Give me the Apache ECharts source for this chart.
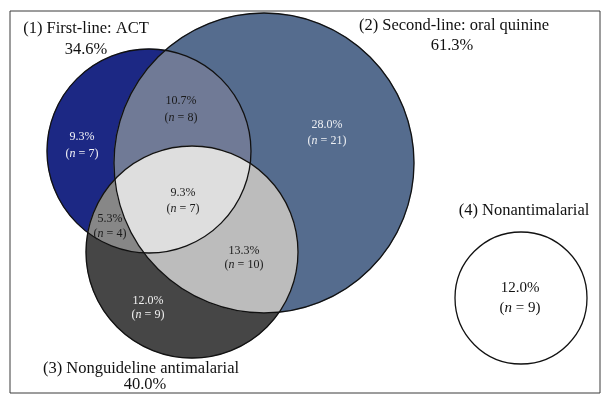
<!DOCTYPE html>
<html><head><meta charset="utf-8">
<script src="https://cdn.jsdelivr.net/npm/echarts@6/dist/echarts.min.js"></script>
<style>html,body{margin:0;padding:0;background:#fff}#c{width:611px;height:404px}</style>
</head><body><div id="c"></div>
<script>
// ---------- data ----------
const setNames = ['(1) First-line: ACT', '(2) Second-line: oral quinine', '(3) Nonguideline antimalarial', '(4) Nonantimalarial'];
const setShares = ['34.6%', '61.3%', '40.0%', ''];
// regions: 1 only, 2 only, 3 only, 4 only, 1∩2, 1∩3, 2∩3, 1∩2∩3
const regionNames = ['1 only', '2 only', '3 only', '4 only', '1∩2', '1∩3', '2∩3', '1∩2∩3'];
const regionShares = ['9.3%', '28.0%', '12.0%', '12.0%', '10.7%', '5.3%', '13.3%', '9.3%'];
const regionCounts = [7, 21, 9, 9, 8, 4, 10, 7];

// ---------- layout (geometry & style, not data) ----------
const circles = [
  { x: 149, y: 151, r: 102 },
  { x: 264, y: 163, r: 150 },
  { x: 192, y: 252, r: 106 },
  { x: 521, y: 298, r: 66 }
];
const regionSets = [[0], [1], [2], [3], [0, 1], [0, 2], [1, 2], [0, 1, 2]];
const regionFill = ['#1c2884', '#556c8e', '#464646', '#ffffff', '#707a96', '#878787', '#bcbcbc', '#dedede'];
const regionTextColor = ['#f4f4f8', '#eef0f4', '#f2f2f2', '#111', '#1a1a1a', '#1a1a1a', '#1a1a1a', '#1a1a1a'];
const regionLabelPos = [[82, 145], [327, 133], [148, 308], [520, 298], [181, 109], [110, 226], [244, 258], [183, 201]];
const regionFontSize = [12, 12, 12, 15, 12, 12, 12, 12];
const regionLineGap = [17, 16, 14, 20, 17, 15, 14, 16];
const setLabelPos = [[[86, 29], [86, 50]], [[454, 26], [452, 46]], [[141, 369], [145, 385]], [[524, 211], null]];
const SET_FONT_SIZE = 16.5;
const FONT = "'Liberation Serif','DejaVu Serif',serif";

function regionPolygon(idx) {
  const cs = regionSets[idx].map(i => circles[i]);
  const c0 = cs.reduce((a, b) => (a.r < b.r ? a : b));
  let best = [c0.x, c0.y], bestD = -Infinity;
  for (let x = c0.x - c0.r; x <= c0.x + c0.r; x += 2) {
    for (let y = c0.y - c0.r; y <= c0.y + c0.r; y += 2) {
      let d = Infinity;
      for (const c of cs) d = Math.min(d, c.r - Math.hypot(x - c.x, y - c.y));
      if (d > bestD) { bestD = d; best = [x, y]; }
    }
  }
  const pts = [];
  const N = 1080;
  for (let k = 0; k < N; k++) {
    const a = (k / N) * 2 * Math.PI, dx = Math.cos(a), dy = Math.sin(a);
    let t = Infinity;
    for (const c of cs) {
      const px = best[0] - c.x, py = best[1] - c.y;
      const b = px * dx + py * dy;
      const cc = px * px + py * py - c.r * c.r;
      t = Math.min(t, -b + Math.sqrt(b * b - cc));
    }
    pts.push([best[0] + t * dx, best[1] + t * dy]);
  }
  return pts;
}
const polys = regionSets.map((s, i) => regionPolygon(i));

const chart = echarts.init(document.getElementById('c'), null, { renderer: 'canvas' });
chart.setOption({
  animation: false,
  backgroundColor: '#fff',
  grid: { left: 10, right: 11, top: 11, bottom: 11, show: true, borderColor: '#3a3a3a', borderWidth: 1, backgroundColor: 'transparent' },
  xAxis: { type: 'value', min: 10, max: 600, show: false },
  yAxis: { type: 'value', min: 11, max: 393, inverse: true, show: false },
  series: [
    {
      type: 'custom', name: 'regions', coordinateSystem: 'cartesian2d', clip: false, silent: true,
      data: regionNames.map((n, i) => [i, i]),
      renderItem: function (params, api) {
        const i = params.dataIndex;
        return {
          type: 'polygon',
          shape: { points: polys[i].map(p => api.coord(p)) },
          style: { fill: regionFill[i], stroke: regionFill[i], lineWidth: 0.5 }
        };
      }
    },
    {
      type: 'custom', name: 'outlines', coordinateSystem: 'cartesian2d', clip: false, silent: true,
      data: circles.map(c => [c.x, c.y, c.r]),
      renderItem: function (params, api) {
        const c = api.coord([api.value(0), api.value(1)]);
        const r = api.size([api.value(2), 0])[0];
        return { type: 'circle', shape: { cx: c[0], cy: c[1], r: r }, style: { fill: 'none', stroke: '#111', lineWidth: 1.3 } };
      }
    },
    {
      type: 'custom', name: 'regionLabels', coordinateSystem: 'cartesian2d', clip: false, silent: true,
      data: regionShares.map((s, i) => [regionLabelPos[i][0], regionLabelPos[i][1]]),
      renderItem: function (params, api) {
        const i = params.dataIndex;
        const p = api.coord([api.value(0), api.value(1)]);
        const fs = regionFontSize[i], col = regionTextColor[i], g = regionLineGap[i];
        return {
          type: 'group',
          children: [
            { type: 'text', x: p[0], y: p[1] - g / 2,
              style: { text: regionShares[i], fill: col, fontSize: fs, fontFamily: FONT, align: 'center', verticalAlign: 'middle' } },
            { type: 'text', x: p[0], y: p[1] + g / 2,
              style: { text: '(' + '{i|n}' + ' = ' + regionCounts[i] + ')', fill: col, fontSize: fs, fontFamily: FONT, align: 'center', verticalAlign: 'middle',
                rich: { i: { fontStyle: 'italic', fontSize: fs, fontFamily: FONT, fill: col } } } }
          ]
        };
      }
    },
    {
      type: 'custom', name: 'setLabels', coordinateSystem: 'cartesian2d', clip: false, silent: true,
      data: setNames.map((n, i) => [setLabelPos[i][0][0], setLabelPos[i][0][1]]),
      renderItem: function (params, api) {
        const i = params.dataIndex;
        const p1 = api.coord([api.value(0), api.value(1)]);
        const children = [
          { type: 'text', x: p1[0], y: p1[1], style: { text: setNames[i], fill: '#111', fontSize: SET_FONT_SIZE, fontFamily: FONT, align: 'center', verticalAlign: 'middle' } }
        ];
        if (setShares[i] && setLabelPos[i][1]) {
          const p2 = api.coord(setLabelPos[i][1]);
          children.push({ type: 'text', x: p2[0], y: p2[1], style: { text: setShares[i], fill: '#111', fontSize: SET_FONT_SIZE, fontFamily: FONT, align: 'center', verticalAlign: 'middle' } });
        }
        return { type: 'group', children: children };
      }
    }
  ]
});
</script></body></html>
